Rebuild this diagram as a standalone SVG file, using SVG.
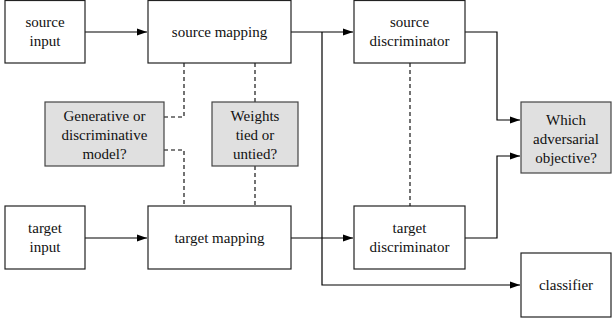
<svg xmlns="http://www.w3.org/2000/svg" width="613" height="321" viewBox="0 0 613 321">
<style>
.b{fill:#fff;stroke:#222;stroke-width:1.2}
.g{fill:#e0e0e0;stroke:#444;stroke-width:1.2}
text{font-family:"Liberation Serif","DejaVu Serif","Noto Serif",serif;font-size:15px;fill:#111;text-anchor:middle}
.c{fill:none;stroke:#000;stroke-width:1.2}
.d{fill:none;stroke:#000;stroke-width:1.1;stroke-dasharray:4,3}
</style>
<defs>
<marker id="a" markerWidth="10" markerHeight="8" refX="10" refY="4" orient="auto" markerUnits="userSpaceOnUse">
<path d="M0,0.5 L10,4 L0,7.5 Z" fill="#000"/>
</marker>
</defs>
<rect width="613" height="321" fill="#fff"/>
<g id="connectors">
<path class="c" d="M85,32 H147" marker-end="url(#a)"/>
<path class="c" d="M291,32 H353" marker-end="url(#a)"/>
<path class="c" d="M322,32 V285 H520" marker-end="url(#a)"/>
<path class="c" d="M85,238 H147" marker-end="url(#a)"/>
<path class="c" d="M291,238 H353" marker-end="url(#a)"/>
<path class="c" d="M465,32 H497 V120 H520" marker-end="url(#a)"/>
<path class="c" d="M465,238 H497 V156 H520" marker-end="url(#a)"/>
<path class="d" d="M184,63 V117 H164"/>
<path class="d" d="M164,150 H184 V206"/>
<path class="d" d="M255,63 V102"/>
<path class="d" d="M255,166 V206"/>
<path class="d" d="M410,63 V206"/>
</g>
<g id="source-input"><rect class="b" x="5" y="0.5" width="80" height="62.5"/><text x="45" y="27">source</text><text x="45" y="46">input</text></g>
<g id="source-mapping"><rect class="b" x="148" y="0.5" width="143" height="62.5"/><text x="219.5" y="37">source mapping</text></g>
<g id="source-discriminator"><rect class="b" x="354" y="0.5" width="111" height="62.5"/><text x="409.5" y="27">source</text><text x="409.5" y="46">discriminator</text></g>
<g id="generative"><rect class="g" x="45" y="102" width="119" height="64"/><text x="104.5" y="121">Generative or</text><text x="104.5" y="140">discriminative</text><text x="104.5" y="159">model?</text></g>
<g id="weights"><rect class="g" x="212" y="102" width="86" height="64"/><text x="255" y="121">Weights</text><text x="255" y="140">tied or</text><text x="255" y="159">untied?</text></g>
<g id="which"><rect class="g" x="521" y="102" width="90" height="71"/><text x="566" y="125">Which</text><text x="566" y="144">adversarial</text><text x="566" y="163">objective?</text></g>
<g id="target-input"><rect class="b" x="5" y="206" width="80" height="63"/><text x="45" y="233">target</text><text x="45" y="252">input</text></g>
<g id="target-mapping"><rect class="b" x="148" y="206" width="143" height="63"/><text x="219.5" y="243">target mapping</text></g>
<g id="target-discriminator"><rect class="b" x="354" y="206" width="111" height="63"/><text x="409.5" y="233">target</text><text x="409.5" y="252">discriminator</text></g>
<g id="classifier"><rect class="b" x="521" y="253" width="90" height="64"/><text x="566" y="290">classifier</text></g>
</svg>
